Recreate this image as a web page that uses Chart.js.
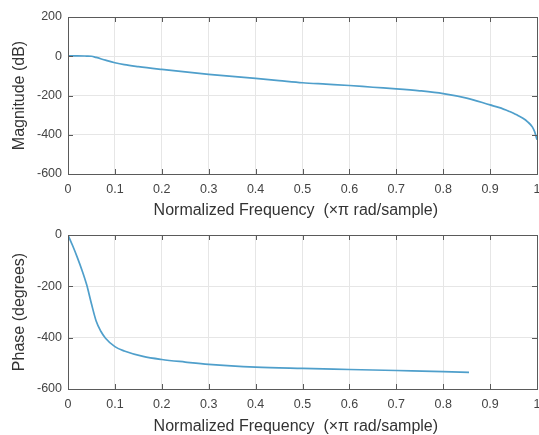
<!DOCTYPE html>
<html>
<head>
<meta charset="utf-8">
<script src="https://cdn.jsdelivr.net/npm/chart.js@4"></script>
<style>
  html, body { margin: 0; padding: 0; background: #fff; overflow: hidden; width: 539px; height: 435px; }
  .painel { position: absolute; left: 0; }
</style>
</head>
<body>
<div class="painel" style="top:0px; width:600px; height:220px;"><canvas id="GraficoMagnitude"></canvas></div>
<div class="painel" style="top:218px; width:600px; height:218px;"><canvas id="GraficoFase"></canvas></div>
<script>
// frequencia normalizada (x pi rad/amostra)
var freqMagnitude = [0, 0.02, 0.04, 0.05, 0.06, 0.08, 0.10, 0.12, 0.15, 0.20, 0.25, 0.30, 0.35, 0.40, 0.45, 0.50, 0.55, 0.60, 0.65, 0.70, 0.75, 0.80, 0.85, 0.90, 0.92, 0.94, 0.95, 0.96, 0.97, 0.98, 0.99, 0.995, 1.0];
var magnitudeDb = [2, 2, 1, 0, -6, -20, -33, -43, -53, -67, -80, -92, -103, -113, -124, -135, -142, -149, -158, -166, -176, -190, -213, -248, -262, -280, -290, -303, -316, -334, -360, -385, -425];

var freqFase = [0, 0.01, 0.02, 0.03, 0.04, 0.05, 0.06, 0.07, 0.08, 0.10, 0.12, 0.16, 0.20, 0.25, 0.30, 0.40, 0.50, 0.60, 0.70, 0.80, 0.855];
var faseGraus = [0, -42, -88, -138, -195, -268, -335, -375, -402, -435, -452, -473, -485, -495, -504, -515, -520, -524, -528, -532, -535];

var ticksX = [0, 0.1, 0.2, 0.3, 0.4, 0.5, 0.6, 0.7, 0.8, 0.9, 1];
// espacos no fim para deslocar o titulo um pouco para a esquerda, como no original
var tituloX = 'Normalized Frequency  (\u00d7\u03c0 rad/sample)   ';

var corLinha = '#4f9fcb';
var corTexto = '#444';
var fonte = 'Liberation Sans, Arial, Helvetica, sans-serif';

// caixa estilo matlab com ticks para dentro
var caixaMatlab = {
    id: 'caixaMatlab',
    afterDraw: function (chart) {
        var ctx = chart.ctx;
        var a = chart.chartArea;
        var sx = chart.scales.x, sy = chart.scales.y;
        ctx.save();
        ctx.strokeStyle = '#5a5a5a';
        ctx.lineWidth = 1;
        ctx.beginPath();
        sx.ticks.forEach(function (t) {
            var px = Math.round(sx.getPixelForValue(t.value)) + 0.5;
            ctx.moveTo(px, a.bottom); ctx.lineTo(px, a.bottom - 5);
            ctx.moveTo(px, a.top); ctx.lineTo(px, a.top + 5);
        });
        sy.ticks.forEach(function (t) {
            var py = Math.round(sy.getPixelForValue(t.value)) + 0.5;
            ctx.moveTo(a.left, py); ctx.lineTo(a.left + 5, py);
            ctx.moveTo(a.right, py); ctx.lineTo(a.right - 5, py);
        });
        ctx.stroke();
        ctx.strokeRect(Math.round(a.left) + 0.5, Math.round(a.top) + 0.5, Math.round(a.right - a.left), Math.round(a.bottom - a.top));
        ctx.restore();
    }
};

function pontos(xs, ys) {
    return xs.map(function (v, i) { return { x: v, y: ys[i] }; });
}

function criarGrafico(id, xs, ys, minY, maxY, tituloY, alturaEixoX) {
    var ctx = document.getElementById(id).getContext('2d');
    return new Chart(ctx, {
        type: 'line',
        data: {
            datasets: [{
                data: pontos(xs, ys),
                borderColor: corLinha,
                borderWidth: 1.7,
                pointRadius: 0,
                fill: false,
                cubicInterpolationMode: 'monotone'
            }]
        },
        options: {
            responsive: true,
            maintainAspectRatio: false,
            animation: false,
            layout: { padding: { top: 17, right: 63, left: 0, bottom: 0 } },
            plugins: { legend: { display: false }, tooltip: { enabled: false } },
            scales: {
                x: {
                    type: 'linear',
                    min: 0, max: 1,
                    afterBuildTicks: function (s) { s.ticks = ticksX.map(function (v) { return { value: v }; }); },
                    afterFit: function (s) { s.height = alturaEixoX; },
                    grid: { color: '#e6e6e6', drawTicks: false },
                    border: { display: false },
                    ticks: {
                        padding: 8,
                        color: corTexto,
                        font: { family: fonte, size: 12.5 },
                        callback: function (v) { return String(Math.round(v * 10) / 10); }
                    },
                    title: {
                        display: true,
                        text: tituloX,
                        color: '#333',
                        font: { family: fonte, size: 16 },
                        padding: { top: 4, bottom: 0 }
                    }
                },
                y: {
                    min: minY, max: maxY,
                    afterFit: function (s) { s.width = 68; },
                    grid: { color: '#e6e6e6', drawTicks: false },
                    border: { display: false },
                    ticks: {
                        stepSize: 200,
                        padding: 6,
                        color: corTexto,
                        font: { family: fonte, size: 12.5 }
                    },
                    title: {
                        display: true,
                        text: tituloY,
                        color: '#333',
                        font: { family: fonte, size: 16 },
                        padding: { top: 10, bottom: 0 }
                    }
                }
            }
        },
        plugins: [caixaMatlab]
    });
}

criarGrafico('GraficoMagnitude', freqMagnitude, magnitudeDb, -600, 200, 'Magnitude (dB)', 46);
criarGrafico('GraficoFase', freqFase, faseGraus, -600, 0, 'Phase (degrees)', 47);
</script>
</body>
</html>
